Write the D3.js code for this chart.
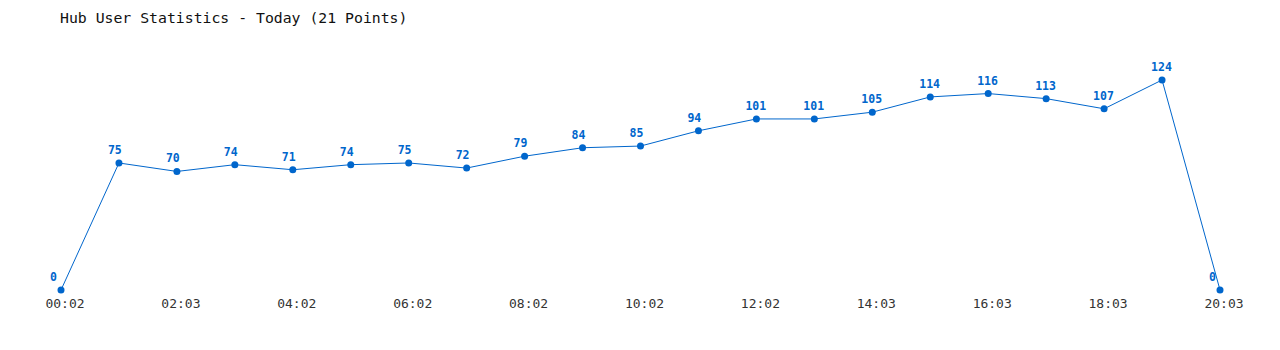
<!DOCTYPE html>
<html><head><meta charset="utf-8">
<script src="https://cdn.jsdelivr.net/npm/d3@7"></script>
<style>body{margin:0;background:#fff}svg{display:block}</style>
</head><body>
<svg id="c" width="1280" height="350"></svg>
<script>
const times = ["00:02","01:02","02:03","03:02","04:02","05:02","06:02","07:02","08:02","09:02","10:02","11:02","12:02","13:02","14:03","15:03","16:03","17:03","18:03","19:03","20:03"];
const values = [0,75,70,74,71,74,75,72,79,84,85,94,101,101,105,114,116,113,107,124,0];
const tickLabels = ["00:02","02:03","04:02","06:02","08:02","10:02","12:02","14:03","16:03","18:03","20:03"];
const title = "Hub User Statistics - Today (21 Points)";

const svg = d3.select("#c");
const color = "#0066cc";
const x = d3.scalePoint().domain(d3.range(times.length)).range([61, 1220]);
const y = d3.scaleLinear().domain([0, 124]).range([290, 80]);

svg.append("text").attr("x", 60).attr("y", 23)
  .attr("font-family", "DejaVu Sans Mono, monospace").attr("font-size", 14.8)
  .attr("fill", "#111").text(title);

svg.append("path").datum(values)
  .attr("fill", "none").attr("stroke", color).attr("stroke-width", 1)
  .attr("d", d3.line().x((d, i) => x(i)).y(d => y(d)));

svg.selectAll("circle.p").data(values).join("circle")
  .attr("cx", (d, i) => x(i)).attr("cy", d => y(d)).attr("r", 3.5).attr("fill", color);

svg.selectAll("text.v").data(values).join("text")
  .attr("x", (d, i) => x(i) - 11).attr("y", d => y(d) - 9)
  .attr("font-family", "DejaVu Sans Mono, monospace").attr("font-size", 11.5).attr("font-weight", "bold")
  .attr("fill", color).text(d => d);

const axisIdx = tickLabels.map(t => times.indexOf(t));
svg.selectAll("text.t").data(axisIdx).join("text")
  .attr("x", i => x(i) + 4).attr("y", 308).attr("text-anchor", "middle")
  .attr("font-family", "DejaVu Sans Mono, monospace").attr("font-size", 13)
  .attr("fill", "#333").text(i => times[i]);
</script>
</body></html>
